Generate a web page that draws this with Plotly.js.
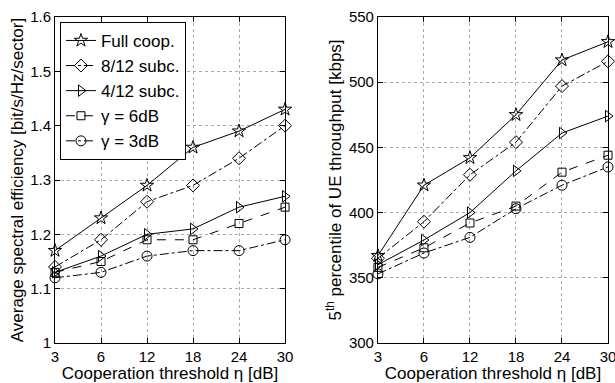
<!DOCTYPE html>
<html><head><meta charset="utf-8">
<script src="https://cdn.plot.ly/plotly-3.0.1.min.js"></script>
<style>html,body{margin:0;padding:0;background:#fff}#chart{width:615px;height:383px}</style>
</head><body><div id="chart"></div>
<script>
const thresholds = ['3','6','12','18','24','30'];
const seriesNames = ['Full coop.','8/12 subc.','4/12 subc.','\u03b3 = 6dB','\u03b3 = 3dB'];
const specEff = {
  full:  [1.17,1.23,1.29,1.36,1.39,1.43],
  s8:    [1.14,1.19,1.26,1.29,1.34,1.40],
  s4:    [1.13,1.16,1.20,1.21,1.25,1.27],
  g6:    [1.13,1.15,1.19,1.19,1.22,1.25],
  g3:    [1.12,1.13,1.16,1.17,1.17,1.19]
};
const thr5 = {
  full:  [367,421,442,475,517,531],
  s8:    [365,393,429,454,497,516],
  s4:    [360,379,400,432,461,474],
  g6:    [358,373,392,405,431,444],
  g3:    [353,369,381,403,421,435]
};
const keys = ['full','s8','s4','g6','g3'];
const symbols = ['star-open','diamond-open','triangle-right-open','square-open','circle-open'];
const dashes = ['solid','dashdot','solid','dash','dashdot'];
const sizes = [10,10,10,8,10];

const traces = [];
keys.forEach((k,i)=>{
  traces.push({x:thresholds,y:specEff[k],name:seriesNames[i],type:'scatter',mode:'lines+markers',
    xaxis:'x',yaxis:'y',cliponaxis:false,
    line:{color:'#000',width:1,dash:dashes[i]},
    marker:{symbol:symbols[i],size:sizes[i],color:'#000',line:{color:'#000',width:1}}});
});
keys.forEach((k,i)=>{
  traces.push({x:thresholds,y:thr5[k],name:seriesNames[i],type:'scatter',mode:'lines+markers',
    xaxis:'x2',yaxis:'y2',showlegend:false,cliponaxis:false,
    line:{color:'#000',width:1,dash:dashes[i]},
    marker:{symbol:symbols[i],size:sizes[i],color:'#000',line:{color:'#000',width:1}}});
});

const fam = 'Liberation Sans, Arial, sans-serif';
const tickF = {family:fam,size:15,color:'#000'};
const titleF = {family:fam,size:17,color:'#000'};
const axBase = {showline:true,mirror:'allticks',linecolor:'#000',linewidth:1,ticks:'inside',ticklen:5,
  tickcolor:'#000',showgrid:true,gridcolor:'#aaa',griddash:'dot',gridwidth:1,zeroline:false,
  tickfont:tickF};
const layout = {
  width:615,height:383,paper_bgcolor:'#fff',plot_bgcolor:'#fff',
  margin:{l:55,r:7,t:17,b:40},
  font:tickF,
  showlegend:true,
  legend:{x:0.009,y:0.985,xanchor:'left',yanchor:'top',bgcolor:'#fff',bordercolor:'#000',borderwidth:1,
    itemwidth:30,font:{family:fam,size:17,color:'#000'},tracegroupgap:0},
  xaxis:Object.assign({},axBase,{domain:[0,0.416],type:'category',range:[0,5],
    title:{text:'Cooperation threshold \u03b7 [dB]',font:titleF,standoff:0}}),
  yaxis:Object.assign({},axBase,{range:[1,1.6],dtick:0.1,
    title:{text:'Average spectral efficiency [bit/s/Hz/sector]',font:titleF,standoff:2}}),
  xaxis2:Object.assign({},axBase,{domain:[0.584,1],type:'category',range:[0,5],anchor:'y2',
    title:{text:'Cooperation threshold \u03b7 [dB]',font:titleF,standoff:0}}),
  yaxis2:Object.assign({},axBase,{range:[300,550],dtick:50,anchor:'x2',
    title:{text:'5<sup>th</sup> percentile of UE throughput [kbps]',font:titleF,standoff:2}})
};
Plotly.newPlot('chart',traces,layout,{displayModeBar:false,staticPlot:true});
</script></body></html>
